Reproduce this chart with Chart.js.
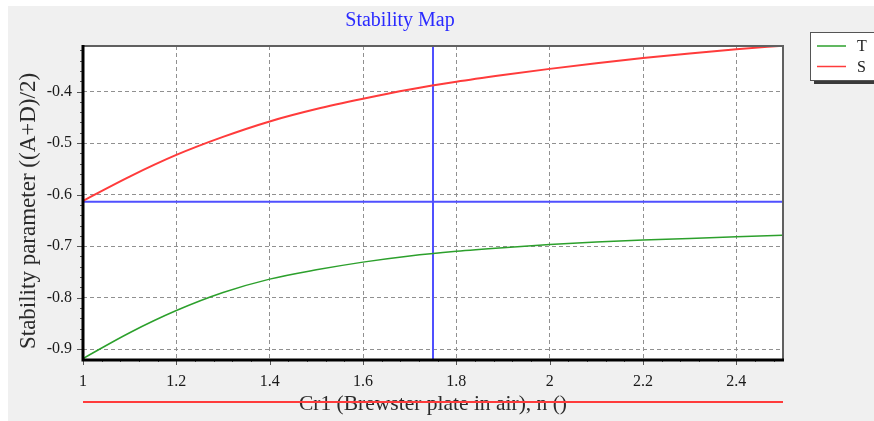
<!DOCTYPE html>
<html>
<head>
<meta charset="utf-8">
<title>Stability Map</title>
<script src="https://cdn.jsdelivr.net/npm/chart.js@4.4.1/dist/chart.umd.min.js"></script>
<style>
  html, body { margin: 0; padding: 0; background: #ffffff; }
  #wrap { width: 874px; height: 421px; position: relative; }
</style>
</head>
<body>
<div id="wrap"><canvas id="stabilityChart"></canvas></div>
<script>
// values
const brewsterN = [1.0, 1.1, 1.2, 1.3, 1.4, 1.5, 1.6, 1.7, 1.8, 1.9, 2.0, 2.1, 2.2, 2.3, 2.4, 2.5];
const seriesT = [-0.918, -0.868, -0.825, -0.790, -0.764, -0.746, -0.731, -0.719, -0.710, -0.703, -0.697, -0.692, -0.688, -0.685, -0.682, -0.679];
const seriesS = [-0.612, -0.565, -0.523, -0.488, -0.458, -0.434, -0.414, -0.396, -0.381, -0.368, -0.356, -0.345, -0.335, -0.326, -0.318, -0.311];
const xTicks = [1, 1.2, 1.4, 1.6, 1.8, 2, 2.2, 2.4];
const yTicks = [-0.9, -0.8, -0.7, -0.6, -0.5, -0.4];
const legendNames = ['T', 'S'];
const cursorN = 1.75;      // blue crosshair
const cursorParam = -0.614;

const serif = '"Liberation Serif", "DejaVu Serif", serif';
const green = '#2ca02c';
const red = '#ff3b3b';

// grey panel and white plot area
const backdrop = {
  id: 'backdrop',
  beforeDraw(chart) {
    const { ctx, chartArea: a } = chart;
    ctx.save();
    ctx.fillStyle = '#f0f0f0';
    ctx.fillRect(8, 6, chart.width - 8, chart.height - 6);
    ctx.fillStyle = '#ffffff';
    ctx.fillRect(a.left, a.top, a.right - a.left, a.bottom - a.top);
    ctx.restore();
  }
};

// crosshair, under the curves
const crosshair = {
  id: 'crosshair',
  beforeDatasetsDraw(chart) {
    const { ctx, chartArea: a, scales } = chart;
    const px = scales.x.getPixelForValue(cursorN);
    const py = scales.y.getPixelForValue(cursorParam);
    ctx.save();
    ctx.strokeStyle = '#5050ff';
    ctx.lineWidth = 2;
    ctx.beginPath();
    ctx.moveTo(px, a.top);
    ctx.lineTo(px, a.bottom);
    ctx.moveTo(a.left, py);
    ctx.lineTo(a.right, py);
    ctx.stroke();
    ctx.restore();
  }
};

// frame, minor ticks, titles and legend
const decorations = {
  id: 'decorations',
  afterDraw(chart) {
    const { ctx, chartArea: a, scales } = chart;
    ctx.save();

    // ticks
    ctx.strokeStyle = '#555';
    ctx.lineWidth = 1;
    ctx.beginPath();
    for (let i = 0; i <= 37; i++) {
      const v = 1 + i * 0.04;
      if (v > 2.5001) break;
      const px = Math.round(scales.x.getPixelForValue(v)) + 0.5;
      const len = i % 5 === 0 ? 6 : 3;
      ctx.moveTo(px, a.bottom);
      ctx.lineTo(px, a.bottom + len);
    }
    for (let i = 0; i <= 30; i++) {
      const v = -0.9 + i * 0.02;
      if (v > -0.311) break;
      const py = Math.round(scales.y.getPixelForValue(v)) + 0.5;
      const len = i % 5 === 0 ? 6 : 3;
      ctx.moveTo(a.left, py);
      ctx.lineTo(a.left - len, py);
    }
    ctx.stroke();

    // frame
    ctx.strokeStyle = '#606060';
    ctx.lineWidth = 2;
    ctx.beginPath();
    ctx.moveTo(a.left, a.top);
    ctx.lineTo(a.right, a.top);
    ctx.lineTo(a.right, a.bottom);
    ctx.stroke();
    ctx.strokeStyle = '#000';
    ctx.lineWidth = 3;
    ctx.beginPath();
    ctx.moveTo(a.left, a.top - 1);
    ctx.lineTo(a.left, a.bottom + 1);
    ctx.lineTo(a.right + 1, a.bottom + 1);
    ctx.stroke();

    // chart title
    ctx.fillStyle = '#2a2aff';
    ctx.font = '20px ' + serif;
    ctx.textAlign = 'center';
    ctx.textBaseline = 'middle';
    ctx.fillText('Stability Map', 400, 21);

    // axis titles
    ctx.fillStyle = '#2b2b2b';
    ctx.font = '21.5px ' + serif;
    ctx.fillText('Cr1 (Brewster plate in air), n ()', 433, 404);
    ctx.save();
    ctx.translate(29, 211);
    ctx.rotate(-Math.PI / 2);
    ctx.font = '23px ' + serif;
    ctx.fillText('Stability parameter ((A+D)/2)', 0, 0);
    ctx.restore();

    // red stroke across the x title
    ctx.strokeStyle = red;
    ctx.lineWidth = 2;
    ctx.beginPath();
    ctx.moveTo(a.left, 402);
    ctx.lineTo(a.right, 402);
    ctx.stroke();

    // legend box with shadow
    ctx.fillStyle = '#3a3a3a';
    ctx.fillRect(814, 36, 70, 48);
    ctx.fillStyle = '#ffffff';
    ctx.fillRect(810, 32, 70, 48);
    ctx.strokeStyle = '#555';
    ctx.lineWidth = 1;
    ctx.strokeRect(810.5, 32.5, 70, 48);
    const colors = [green, red];
    legendNames.forEach((name, i) => {
      const ly = 46 + i * 20.5;
      ctx.strokeStyle = colors[i];
      ctx.lineWidth = 1.5;
      ctx.beginPath();
      ctx.moveTo(817, ly);
      ctx.lineTo(846, ly);
      ctx.stroke();
      ctx.fillStyle = '#222';
      ctx.font = '16px ' + serif;
      ctx.textAlign = 'left';
      ctx.fillText(name, 857, ly + 1);
    });

    ctx.restore();
  }
};

new Chart(document.getElementById('stabilityChart'), {
  type: 'line',
  data: {
    datasets: [
      {
        label: legendNames[0],
        data: brewsterN.map((n, i) => ({ x: n, y: seriesT[i] })),
        borderColor: green,
        borderWidth: 1.5,
        pointRadius: 0,
        cubicInterpolationMode: 'monotone'
      },
      {
        label: legendNames[1],
        data: brewsterN.map((n, i) => ({ x: n, y: seriesS[i] })),
        borderColor: red,
        borderWidth: 2,
        pointRadius: 0,
        cubicInterpolationMode: 'monotone'
      }
    ]
  },
  options: {
    responsive: true,
    maintainAspectRatio: false,
    animation: false,
    layout: { padding: { top: 46, right: 91, left: 0, bottom: 0 } },
    plugins: {
      legend: { display: false },
      title: { display: false },
      tooltip: { enabled: false }
    },
    scales: {
      x: {
        type: 'linear',
        min: 1,
        max: 2.5,
        afterBuildTicks: s => { s.ticks = xTicks.map(v => ({ value: v })); },
        afterFit: s => { s.height = 62; },
        grid: { color: '#909090', lineWidth: 1, drawTicks: false },
        border: { display: false, dash: [4, 3] },
        ticks: {
          padding: 13,
          color: '#1a1a1a',
          font: { family: serif, size: 16 },
          maxRotation: 0,
          callback: v => String(+v.toFixed(1))
        }
      },
      y: {
        min: -0.919,
        max: -0.3116,
        afterBuildTicks: s => { s.ticks = yTicks.map(v => ({ value: v })); },
        afterFit: s => { s.width = 83; },
        grid: { color: '#909090', lineWidth: 1, drawTicks: false },
        border: { display: false, dash: [4, 3] },
        ticks: {
          padding: 11,
          color: '#1a1a1a',
          font: { family: serif, size: 16 },
          callback: v => v.toFixed(1)
        }
      }
    }
  },
  plugins: [backdrop, crosshair, decorations]
});
</script>
</body>
</html>
